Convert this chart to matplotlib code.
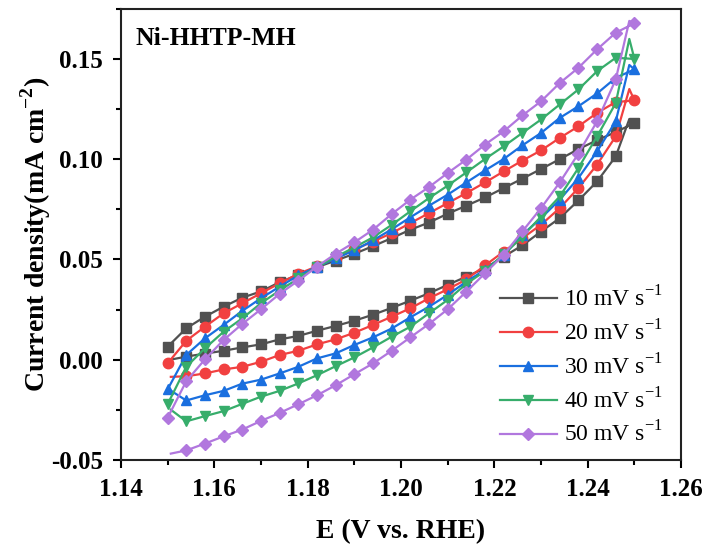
import matplotlib
matplotlib.use('Agg')
import matplotlib.pyplot as plt
from matplotlib.ticker import MultipleLocator

plt.rcParams['font.family'] = ['Liberation Serif', 'DejaVu Serif']
plt.rcParams['mathtext.fontset'] = 'custom'
plt.rcParams['mathtext.rm'] = 'Liberation Serif'
plt.rcParams['mathtext.bf'] = 'Liberation Serif:bold'

# potential grid where markers sit (V vs RHE)
E = [1.150, 1.154, 1.158, 1.162, 1.166, 1.170, 1.174, 1.178, 1.182, 1.186,
     1.190, 1.194, 1.198, 1.202, 1.206, 1.210, 1.214, 1.218, 1.222, 1.226,
     1.230, 1.234, 1.238, 1.242, 1.246, 1.250]
E_turn = 1.2489   # last point before reverse scan
E_end = 1.1507    # last point of reverse scan

labels = ['10 mV s$^{-1}$', '20 mV s$^{-1}$', '30 mV s$^{-1}$', '40 mV s$^{-1}$', '50 mV s$^{-1}$']

# forward scan, E[0]..E[25]
fwd_10 = [0.0064, 0.0156, 0.0214, 0.0264, 0.0309, 0.0340, 0.0386, 0.0423, 0.0461, 0.0494,
          0.0528, 0.0566, 0.0606, 0.0648, 0.0684, 0.0728, 0.0768, 0.0809, 0.0856, 0.0903,
          0.0951, 0.1000, 0.1050, 0.1095, 0.1135, 0.1181]
fwd_20 = [-0.0019, 0.0094, 0.0164, 0.0231, 0.0281, 0.0331, 0.0381, 0.0428, 0.0465, 0.0505,
          0.0550, 0.0589, 0.0631, 0.0681, 0.0731, 0.0781, 0.0831, 0.0884, 0.0939, 0.0993,
          0.1044, 0.1106, 0.1164, 0.1231, 0.1285, 0.1293]
fwd_30 = [-0.0149, 0.0023, 0.0106, 0.0173, 0.0243, 0.0306, 0.0364, 0.0420, 0.0462, 0.0505,
          0.0545, 0.0595, 0.0650, 0.0710, 0.0768, 0.0823, 0.0884, 0.0944, 0.1001, 0.1069,
          0.1131, 0.1206, 0.1264, 0.1328, 0.1406, 0.1448]
fwd_40 = [-0.0223, -0.0036, 0.0056, 0.0139, 0.0206, 0.0281, 0.0345, 0.0405, 0.0462, 0.0512,
          0.0560, 0.0610, 0.0672, 0.0740, 0.0806, 0.0868, 0.0934, 0.1001, 0.1064, 0.1131,
          0.1198, 0.1273, 0.1348, 0.1439, 0.1506, 0.1500]
fwd_50 = [-0.0291, -0.0108, 0.0001, 0.0098, 0.0178, 0.0251, 0.0328, 0.0394, 0.0464, 0.0528,
          0.0585, 0.0648, 0.0726, 0.0798, 0.0861, 0.0931, 0.0998, 0.1073, 0.1139, 0.1218,
          0.1289, 0.1380, 0.1456, 0.1548, 0.1631, 0.1678]

# reverse scan values at E[1]..E[24]
rev_10 = [0.0015, 0.0030, 0.0044, 0.0061, 0.0076, 0.0101, 0.0118, 0.0144, 0.0168, 0.0194,
          0.0224, 0.0258, 0.0294, 0.0331, 0.0373, 0.0414, 0.0456, 0.0514, 0.0570, 0.0639,
          0.0706, 0.0794, 0.0889, 0.1014]
rev_20 = [-0.0083, -0.0069, -0.0049, -0.0036, -0.0011, 0.0023, 0.0044, 0.0076, 0.0101, 0.0134,
          0.0173, 0.0214, 0.0256, 0.0306, 0.0351, 0.0400, 0.0470, 0.0539, 0.0606, 0.0673,
          0.0756, 0.0856, 0.0973, 0.1114]
rev_30 = [-0.0204, -0.0178, -0.0156, -0.0120, -0.0100, -0.0069, -0.0036, 0.0006, 0.0031, 0.0073,
          0.0111, 0.0155, 0.0211, 0.0264, 0.0323, 0.0389, 0.0448, 0.0520, 0.0623, 0.0706,
          0.0798, 0.0906, 0.1039, 0.1189]
rev_40 = [-0.0308, -0.0282, -0.0257, -0.0221, -0.0185, -0.0156, -0.0119, -0.0078, -0.0033, 0.0011,
          0.0061, 0.0114, 0.0164, 0.0231, 0.0298, 0.0378, 0.0442, 0.0525, 0.0614, 0.0714,
          0.0814, 0.0956, 0.1114, 0.1280]
rev_50 = [-0.0453, -0.0419, -0.0383, -0.0349, -0.0306, -0.0266, -0.0223, -0.0178, -0.0128, -0.0073,
          -0.0019, 0.0044, 0.0111, 0.0178, 0.0251, 0.0339, 0.0431, 0.0523, 0.0640, 0.0756,
          0.0884, 0.1028, 0.1189, 0.1398]

turn = [0.120, 0.135, 0.147, 0.160, 0.169]
end = [0.0000, -0.0086, -0.0155, -0.0250, -0.0469]

fwd = [fwd_10, fwd_20, fwd_30, fwd_40, fwd_50]
rev = [rev_10, rev_20, rev_30, rev_40, rev_50]

colors = ['#515151', '#F14040', '#1A6FDF', '#37AD6B', '#B177DE']
markers = ['s', 'o', '^', 'v', 'D']
msizes = [6.5, 7.5, 7.5, 7.5, 6.5]

fig = plt.figure(figsize=(7.11, 5.54), dpi=100)
ax = fig.add_axes([0.170, 0.170, 0.788, 0.814])

for i in range(5):
    xs = E + [E_turn] + E[1:25][::-1] + [E_end]
    ys = fwd[i] + [turn[i]] + rev[i][::-1] + [end[i]]
    marks = list(range(26)) + list(range(27, 51))
    ax.plot(xs, ys, color=colors[i], marker=markers[i], markersize=msizes[i],
            lw=1.6, markevery=marks, label=labels[i])

ax.set_xlim(1.14, 1.26)
ax.set_ylim(-0.05, 0.175)
ax.xaxis.set_major_locator(MultipleLocator(0.02))
ax.xaxis.set_minor_locator(MultipleLocator(0.01))
ax.yaxis.set_major_locator(MultipleLocator(0.05))
ax.yaxis.set_minor_locator(MultipleLocator(0.025))
ax.set_xticklabels(['%.2f' % v for v in ax.get_xticks()])
ax.set_yticklabels(['%.2f' % v for v in ax.get_yticks()])
ax.tick_params(which='major', length=6, width=1.5, direction='out', labelsize=18, pad=7)
ax.tick_params(which='minor', length=3.5, width=1.5, direction='out')
for lab in ax.get_xticklabels() + ax.get_yticklabels():
    lab.set_fontweight('bold')
for s in ax.spines.values():
    s.set_linewidth(1.5)
    s.set_color('#222222')

ax.set_xlabel('E (V vs. RHE)', fontsize=20, fontweight='bold', labelpad=13)
ax.set_ylabel(r'Current density(mA cm$^{\mathbf{-2}}$)', fontsize=20, fontweight='bold')
ax.yaxis.set_label_coords(-0.122, 0.5)

ax.text(0.027, 0.935, 'Ni-HHTP-MH', transform=ax.transAxes, fontsize=18.5,
        fontweight='bold', va='center', ha='left')

ax.legend(loc='lower right', bbox_to_anchor=(0.99, 0.0), frameon=False, fontsize=17,
          handlelength=2.4, labelspacing=0.36, handletextpad=0.3, borderaxespad=0.15)

fig.savefig('out.png', dpi=100)
